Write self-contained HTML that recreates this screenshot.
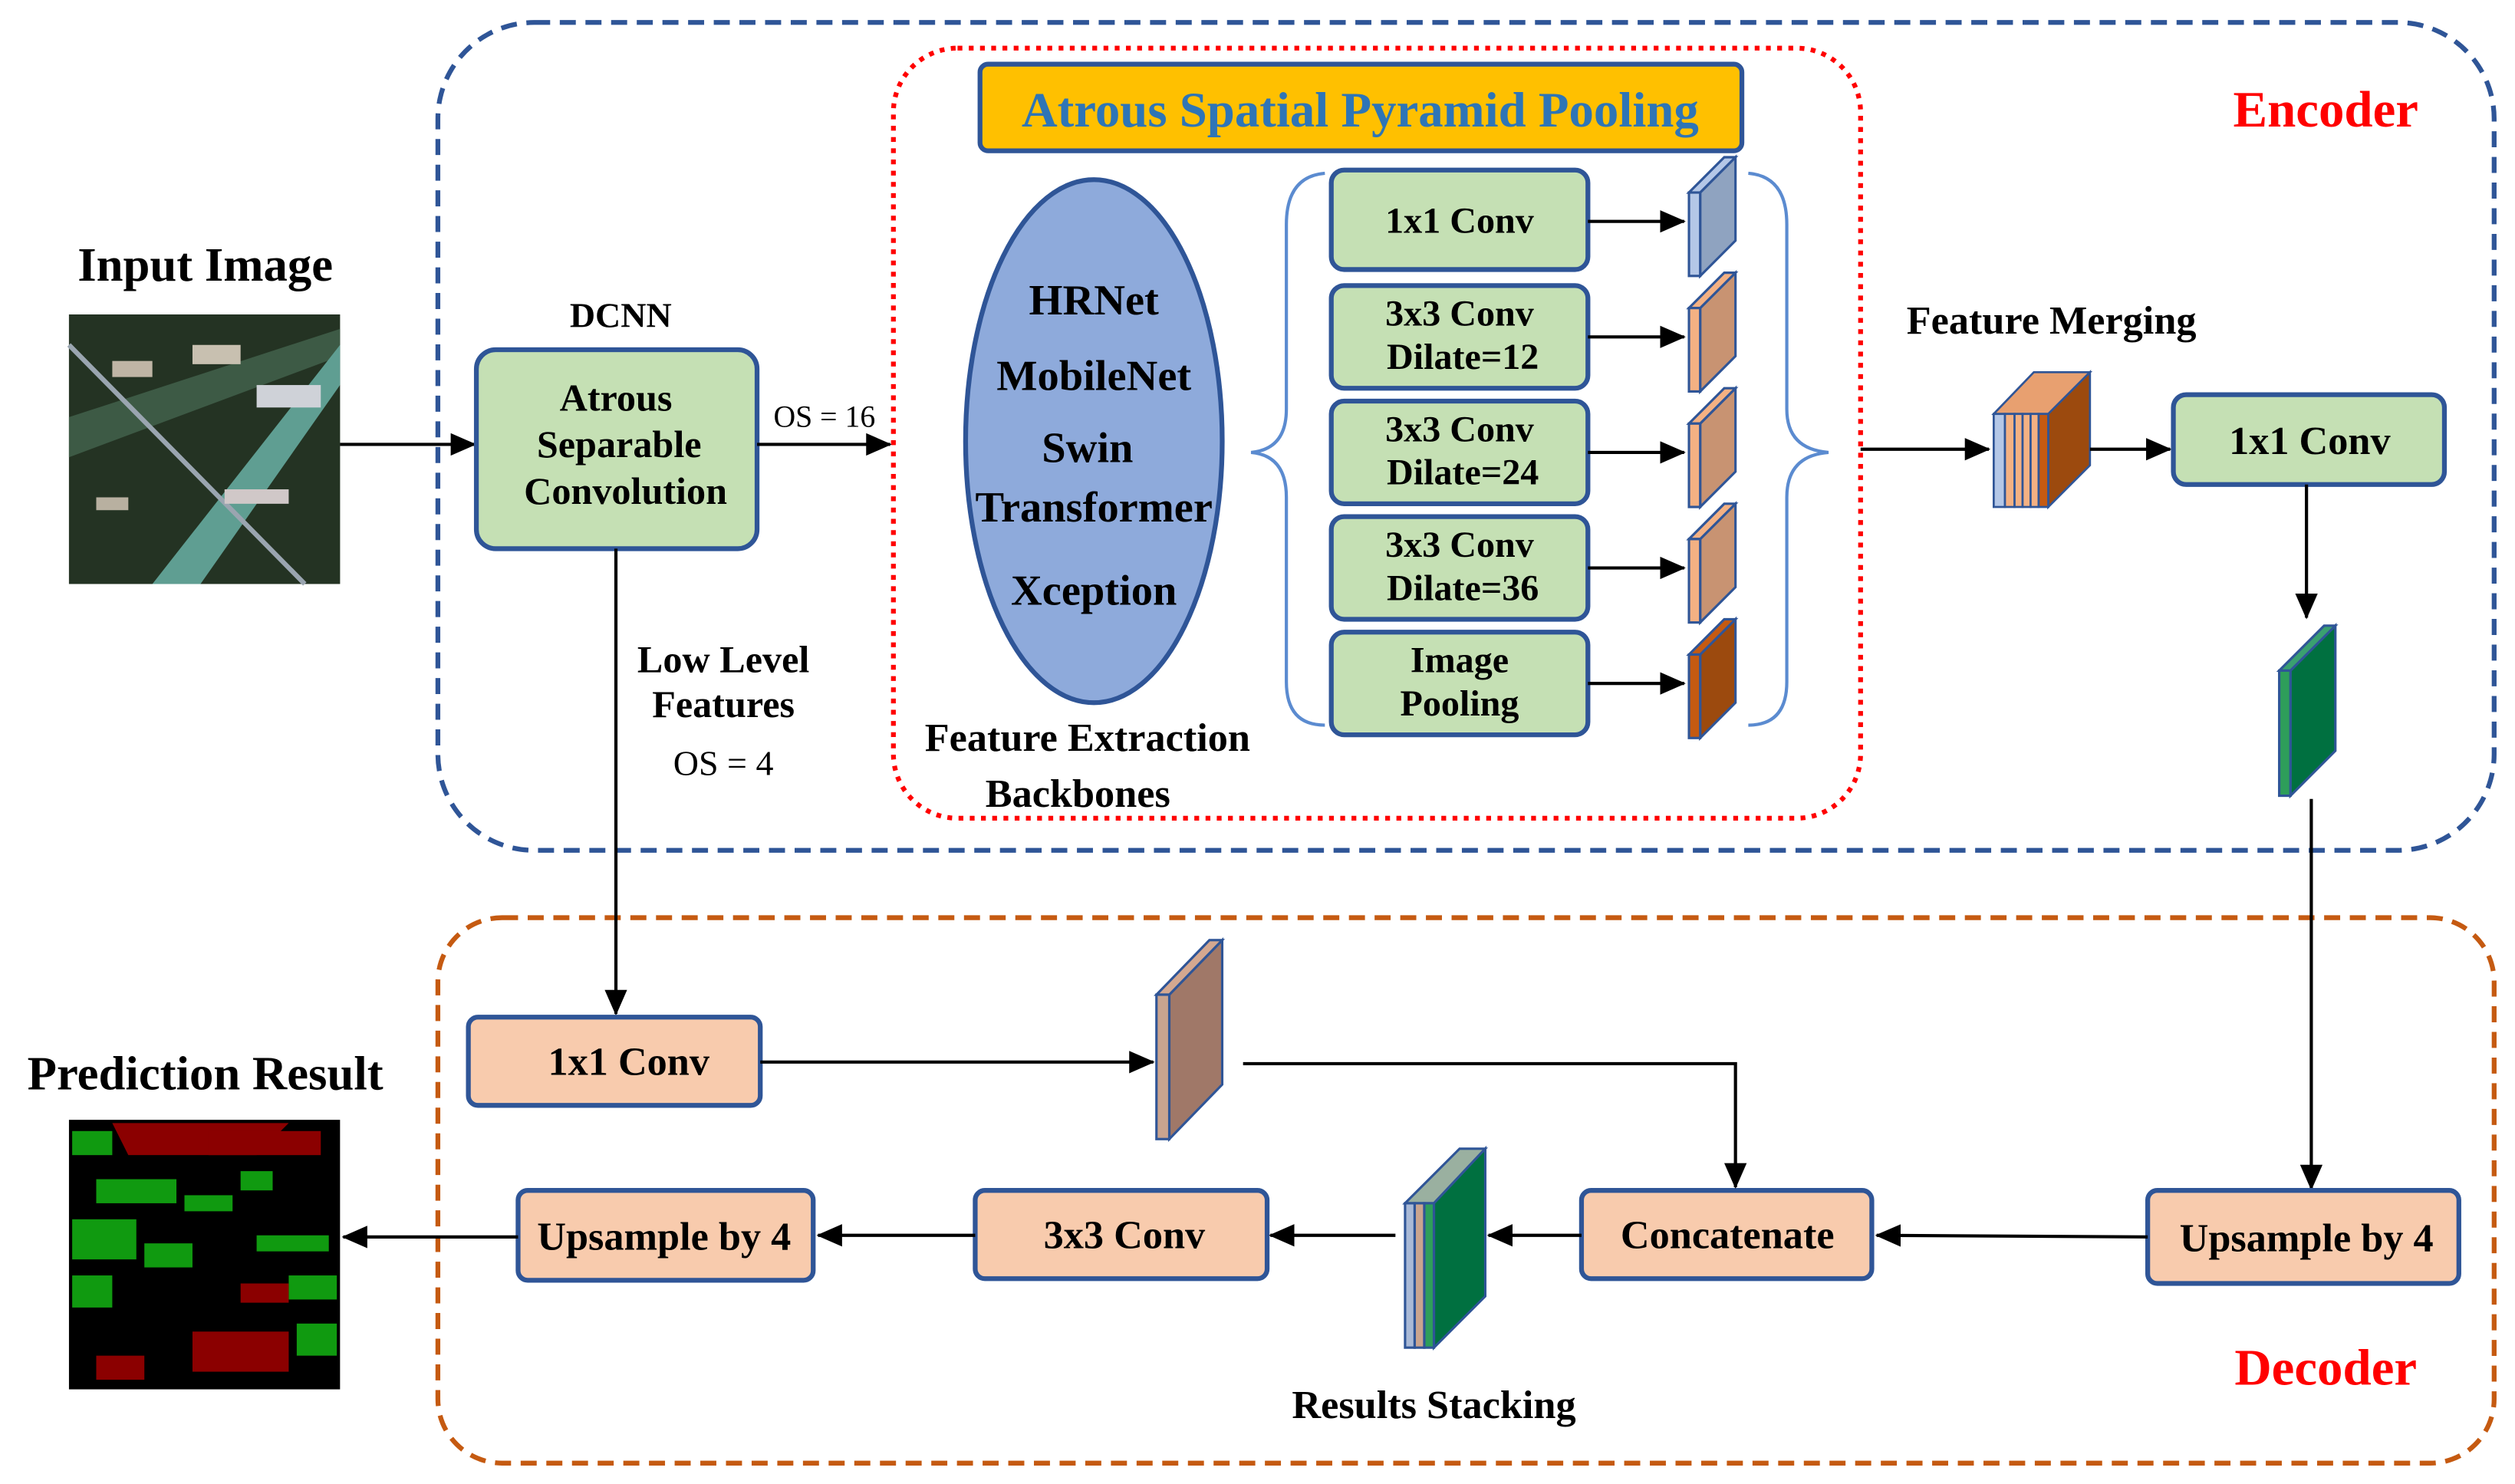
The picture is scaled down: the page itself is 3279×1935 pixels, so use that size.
<!DOCTYPE html>
<html><head><meta charset="utf-8"><style>
html,body{margin:0;padding:0;background:#fff;}
svg{display:block;}
text{font-family:"Liberation Serif",serif;font-weight:bold;fill:#000;}
</style></head><body>
<svg width="3279" height="1935" viewBox="0 0 1568 925" preserveAspectRatio="none" xmlns="http://www.w3.org/2000/svg">
<defs>
<marker id="ah2" markerWidth="16" markerHeight="14" refX="15" refY="7" orient="auto" markerUnits="userSpaceOnUse"><path d="M0,0 L16,7 L0,14 z" fill="#000"/></marker>
</defs>
<rect x="273" y="14" width="1282" height="516" rx="60" fill="none" stroke="#2f5597" stroke-width="3" stroke-dasharray="10,6"/>
<rect x="273" y="572" width="1282" height="340" rx="40" fill="none" stroke="#c55a11" stroke-width="3" stroke-dasharray="10,6"/>
<rect x="557" y="30" width="603" height="480" rx="40" fill="none" stroke="#ff0000" stroke-width="3" stroke-dasharray="3,4"/>
<rect x="611" y="40" width="475" height="54" rx="5" fill="#ffc000" stroke="#2f5597" stroke-width="3"/>
<text x="848" y="79" text-anchor="middle" font-size="31" style="fill:#2e75b6">Atrous Spatial Pyramid Pooling</text>
<text x="1450" y="79" text-anchor="middle" font-size="32" style="fill:#ff0000">Encoder</text>
<text x="1450" y="863" text-anchor="middle" font-size="32" style="fill:#ff0000">Decoder</text>

<g>
<rect x="43" y="196" width="169" height="168" fill="#1d2a1c"/>
<rect x="43" y="196" width="169" height="168" fill="#2c3b2a" opacity="0.5"/>
<polygon points="43,260 212,205 212,222 43,285" fill="#3d5a45"/>
<polygon points="95,364 212,215 212,240 125,364" fill="#5f9e92"/>
<line x1="43" y1="215" x2="190" y2="364" stroke="#9aa5b0" stroke-width="3"/>
<rect x="70" y="225" width="25" height="10" fill="#bfb5a5"/>
<rect x="120" y="215" width="30" height="12" fill="#c8c0b0"/>
<rect x="160" y="240" width="40" height="14" fill="#cfd2d8"/>
<rect x="140" y="305" width="40" height="9" fill="#d0c8c8"/>
<rect x="60" y="310" width="20" height="8" fill="#b8b0a0"/>
</g>
<text x="128" y="175" text-anchor="middle" font-size="30">Input Image</text>
<line x1="212" y1="277" x2="296" y2="277" stroke="#000" stroke-width="2" marker-end="url(#ah2)"/>

<g>
<rect x="43" y="698" width="169" height="168" fill="#000"/>
<polygon points="70,700 180,700 160,720 80,720" fill="#8b0000"/>
<rect x="130" y="705" width="70" height="15" fill="#8b0000"/>
<rect x="45" y="705" width="25" height="15" fill="#109a10"/>
<rect x="60" y="735" width="50" height="15" fill="#109a10"/>
<rect x="45" y="760" width="40" height="25" fill="#109a10"/>
<rect x="90" y="775" width="30" height="15" fill="#109a10"/>
<rect x="115" y="745" width="30" height="10" fill="#109a10"/>
<rect x="45" y="795" width="25" height="20" fill="#109a10"/>
<rect x="160" y="770" width="45" height="10" fill="#109a10"/>
<rect x="180" y="795" width="30" height="15" fill="#109a10"/>
<rect x="150" y="730" width="20" height="12" fill="#109a10"/>
<rect x="150" y="800" width="30" height="12" fill="#8b0000"/>
<rect x="120" y="830" width="60" height="25" fill="#8b0000"/>
<rect x="60" y="845" width="30" height="15" fill="#8b0000"/>
<rect x="185" y="825" width="25" height="20" fill="#109a10"/>
</g>
<text x="128" y="679" text-anchor="middle" font-size="30">Prediction Result</text>

<text x="387" y="204" text-anchor="middle" font-size="22">DCNN</text>
<rect x="297" y="218" width="175" height="124" rx="12" fill="#c5e0b4" stroke="#2f5597" stroke-width="3"/>
<text x="384" y="256" text-anchor="middle" font-size="24">Atrous</text>
<text x="386" y="285" text-anchor="middle" font-size="24">Separable</text>
<text x="390" y="314" text-anchor="middle" font-size="24">Convolution</text>
<text x="514" y="266" text-anchor="middle" font-size="19" style="font-weight:normal">OS = 16</text>
<line x1="472" y1="277" x2="555" y2="277" stroke="#000" stroke-width="2" marker-end="url(#ah2)"/>
<line x1="384" y1="342" x2="384" y2="632" stroke="#000" stroke-width="2" marker-end="url(#ah2)"/>
<text x="451" y="419" text-anchor="middle" font-size="24">Low Level</text>
<text x="451" y="447" text-anchor="middle" font-size="24">Features</text>
<text x="451" y="483" text-anchor="middle" font-size="22" style="font-weight:normal">OS = 4</text>

<ellipse cx="682" cy="275" rx="80" ry="163" fill="#8eaadb" stroke="#2f5597" stroke-width="3"/>
<text x="682" y="196" text-anchor="middle" font-size="27">HRNet</text>
<text x="682" y="243" text-anchor="middle" font-size="27">MobileNet</text>
<text x="678" y="288" text-anchor="middle" font-size="27">Swin</text>
<text x="682" y="325" text-anchor="middle" font-size="27">Transformer</text>
<text x="682" y="377" text-anchor="middle" font-size="27">Xception</text>
<text x="678" y="468" text-anchor="middle" font-size="25">Feature Extraction</text>
<text x="672" y="503" text-anchor="middle" font-size="25">Backbones</text>

<path d="M826,108 Q802,110 802,140 L802,255 Q802,280 780,282 Q802,284 802,310 L802,425 Q802,452 826,452" fill="none" stroke="#5b8bd0" stroke-width="2"/>
<path d="M1090,108 Q1114,110 1114,140 L1114,255 Q1114,280 1140,282 Q1114,284 1114,310 L1114,425 Q1114,452 1090,452" fill="none" stroke="#5b8bd0" stroke-width="2"/>

<g stroke="#2f5597" stroke-width="3" fill="#c5e0b4">
<rect x="830" y="106" width="160" height="62" rx="8"/>
<rect x="830" y="178" width="160" height="64" rx="8"/>
<rect x="830" y="250" width="160" height="64" rx="8"/>
<rect x="830" y="322" width="160" height="64" rx="8"/>
<rect x="830" y="394" width="160" height="64" rx="8"/>
</g>
<text x="910" y="145" text-anchor="middle" font-size="23">1x1 Conv</text>
<text x="910" y="203" text-anchor="middle" font-size="23">3x3 Conv</text>
<text x="912" y="230" text-anchor="middle" font-size="23">Dilate=12</text>
<text x="910" y="275" text-anchor="middle" font-size="23">3x3 Conv</text>
<text x="912" y="302" text-anchor="middle" font-size="23">Dilate=24</text>
<text x="910" y="347" text-anchor="middle" font-size="23">3x3 Conv</text>
<text x="912" y="374" text-anchor="middle" font-size="23">Dilate=36</text>
<text x="910" y="419" text-anchor="middle" font-size="23">Image</text>
<text x="910" y="446" text-anchor="middle" font-size="23">Pooling</text>
<g stroke="#000" stroke-width="2">
<line x1="990" y1="138" x2="1050" y2="138" marker-end="url(#ah2)"/>
<line x1="990" y1="210" x2="1050" y2="210" marker-end="url(#ah2)"/>
<line x1="990" y1="282" x2="1050" y2="282" marker-end="url(#ah2)"/>
<line x1="990" y1="354" x2="1050" y2="354" marker-end="url(#ah2)"/>
<line x1="990" y1="426" x2="1050" y2="426" marker-end="url(#ah2)"/>
</g>
<g stroke="#2f5597" stroke-width="1.5">
<polygon points="1060,120 1082,98 1082,150 1060,172" fill="#8fa3c0"/><polygon points="1053,120 1075,98 1082,98 1060,120" fill="#b4c7e7"/><rect x="1053" y="120" width="7" height="52" fill="#b4c7e7"/>
<polygon points="1060,192 1082,170 1082,222 1060,244" fill="#c89372"/><polygon points="1053,192 1075,170 1082,170 1060,192" fill="#f4b183"/><rect x="1053" y="192" width="7" height="52" fill="#f4b183"/>
<polygon points="1060,264 1082,242 1082,294 1060,316" fill="#c89372"/><polygon points="1053,264 1075,242 1082,242 1060,264" fill="#f4b183"/><rect x="1053" y="264" width="7" height="52" fill="#f4b183"/>
<polygon points="1060,336 1082,314 1082,366 1060,388" fill="#c89372"/><polygon points="1053,336 1075,314 1082,314 1060,336" fill="#f4b183"/><rect x="1053" y="336" width="7" height="52" fill="#f4b183"/>
<polygon points="1060,408 1082,386 1082,438 1060,460" fill="#9c4a0e"/><polygon points="1053,408 1075,386 1082,386 1060,408" fill="#c55a11"/><rect x="1053" y="408" width="7" height="52" fill="#c55a11"/>
</g>

<text x="1279" y="208" text-anchor="middle" font-size="25">Feature Merging</text>
<line x1="1160" y1="280" x2="1240" y2="280" stroke="#000" stroke-width="2" marker-end="url(#ah2)"/>
<g stroke="#2f5597" stroke-width="1.3">
<polygon points="1243,258 1268,232 1303,232 1277,258" fill="#e8a070"/>
<polygon points="1277,258 1303,232 1303,290 1277,316" fill="#9c4a0e"/>
<rect x="1243" y="258" width="7" height="58" fill="#b4c7e7"/>
<rect x="1250" y="258" width="6" height="58" fill="#f4b183"/>
<rect x="1256" y="258" width="5" height="58" fill="#f4b183"/>
<rect x="1261" y="258" width="5" height="58" fill="#f4b183"/>
<rect x="1266" y="258" width="5" height="58" fill="#f4b183"/>
<rect x="1271" y="258" width="6" height="58" fill="#c55a11"/>
</g>
<line x1="1303" y1="280" x2="1353" y2="280" stroke="#000" stroke-width="2" marker-end="url(#ah2)"/>
<rect x="1355" y="246" width="169" height="56" rx="8" fill="#c5e0b4" stroke="#2f5597" stroke-width="3"/>
<text x="1440" y="283" text-anchor="middle" font-size="25">1x1 Conv</text>
<line x1="1438" y1="302" x2="1438" y2="385" stroke="#000" stroke-width="2" marker-end="url(#ah2)"/>
<g stroke="#2f5597" stroke-width="1.5">
<polygon points="1428,418 1456,390 1456,468 1428,496" fill="#007040"/>
<polygon points="1421,418 1449,390 1456,390 1428,418" fill="#3aa070"/>
<rect x="1421" y="418" width="7" height="78" fill="#2e9e5a"/>
</g>
<line x1="1441" y1="498" x2="1441" y2="741" stroke="#000" stroke-width="2" marker-end="url(#ah2)"/>

<g stroke="#2f5597" stroke-width="3" fill="#f8cbad">
<rect x="292" y="634" width="182" height="55" rx="6"/>
<rect x="1339" y="742" width="194" height="58" rx="6"/>
<rect x="986" y="742" width="181" height="55" rx="6"/>
<rect x="608" y="742" width="182" height="55" rx="6"/>
<rect x="323" y="742" width="184" height="56" rx="6"/>
</g>
<text x="392" y="670" text-anchor="middle" font-size="25">1x1 Conv</text>
<text x="1438" y="780" text-anchor="middle" font-size="25">Upsample by 4</text>
<text x="1077" y="778" text-anchor="middle" font-size="25">Concatenate</text>
<text x="701" y="778" text-anchor="middle" font-size="25">3x3 Conv</text>
<text x="414" y="779" text-anchor="middle" font-size="25">Upsample by 4</text>

<line x1="474" y1="662" x2="719" y2="662" stroke="#000" stroke-width="2" marker-end="url(#ah2)"/>
<g stroke="#2f5597" stroke-width="1.5">
<polygon points="729,620 762,586 762,676 729,710" fill="#a07868"/>
<polygon points="721,620 754,586 762,586 729,620" fill="#d4a890"/>
<rect x="721" y="620" width="8" height="90" fill="#c9a48f"/>
</g>
<polyline points="775,663 1082,663 1082,740" fill="none" stroke="#000" stroke-width="2" marker-end="url(#ah2)"/>
<line x1="1339" y1="771" x2="1170" y2="770" stroke="#000" stroke-width="2" marker-end="url(#ah2)"/>
<line x1="986" y1="770" x2="928" y2="770" stroke="#000" stroke-width="2" marker-end="url(#ah2)"/>
<g stroke="#2f5597" stroke-width="1.5">
<polygon points="876,750 910,716 926,716 894,750" fill="#9ab0a0"/>
<polygon points="894,750 926,716 926,808 894,840" fill="#007040"/>
<rect x="876" y="750" width="6" height="90" fill="#a9b9d6"/>
<rect x="882" y="750" width="6" height="90" fill="#c9a48f"/>
<rect x="888" y="750" width="6" height="90" fill="#2e9e5a"/>
</g>
<text x="894" y="884" text-anchor="middle" font-size="25">Results Stacking</text>
<line x1="870" y1="770" x2="792" y2="770" stroke="#000" stroke-width="2" marker-end="url(#ah2)"/>
<line x1="608" y1="770" x2="510" y2="770" stroke="#000" stroke-width="2" marker-end="url(#ah2)"/>
<line x1="323" y1="771" x2="214" y2="771" stroke="#000" stroke-width="2" marker-end="url(#ah2)"/>
</svg>
</body></html>
